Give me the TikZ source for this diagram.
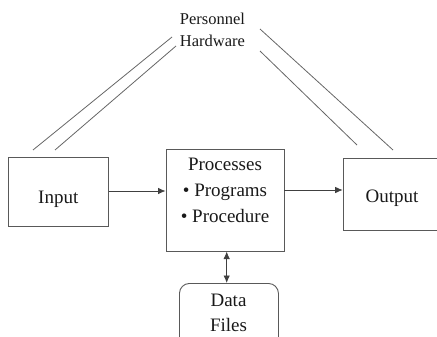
\documentclass[tikz,border=0pt]{standalone}
\usepackage{fontspec}
\setmainfont{Liberation Serif}
\newfontfamily\timesfont{Liberation Serif}
\usetikzlibrary{arrows.meta}
\begin{document}
\begin{tikzpicture}[x=1pt,y=-1pt,
  boxline/.style={draw=black!65, line width=0.9pt},
  slant/.style={draw=black!60, line width=0.8pt},
  tip/.style={Latex[length=7.5pt,width=6.5pt]},
  conn/.style={draw=black!75, line width=0.8pt, -{Latex[length=7.5pt,width=6.5pt]}},
  bigtxt/.style={font=\timesfont\fontsize{19}{25}\selectfont, inner sep=0pt, anchor=base, text=black!90},
  smalltxt/.style={font=\timesfont\fontsize{16.5}{21}\selectfont, inner sep=0pt, anchor=base, text=black!90}]
\useasboundingbox (0,0) rectangle (437,337);
\clip (0,0) rectangle (437,337);
% boxes
\node[boxline, minimum width=100pt, minimum height=68.3pt, inner sep=0pt] (input) at (58.3,191.8) {};
\node[boxline, minimum width=118pt, minimum height=101.7pt, inner sep=0pt] (proc) at (225,200.2) {};
\node[boxline, minimum width=120pt, minimum height=72.3pt, inner sep=0pt, anchor=north west] (output) at (342.7,157.7) {};
\node[boxline, rounded corners=10pt, minimum width=99pt, minimum height=90pt, inner sep=0pt, anchor=north west] (data) at (179,283) {};
% texts
\node[bigtxt] (tinput) at (58.3,203) {Input};
\node[bigtxt] (toutput) at (392,202) {Output};
\node[bigtxt] (tproc) at (225,170) {Processes};
\node[bigtxt] (tprog) at (225,196.5) {• Programs};
\node[bigtxt] (tprocd) at (225,222) {• Procedure};
\node[bigtxt] (tdata) at (228.5,306) {Data};
\node[bigtxt] (tfiles) at (228.5,331) {Files};
\node[smalltxt] (tpers) at (212.5,25) {Personnel};
\node[smalltxt] (thard) at (212.5,47) {Hardware};
% connectors
\draw[conn] (input.east |- 0,191) -- (proc.west |- 0,191);
\draw[conn] (proc.east |- 0,190) -- (output.west |- 0,190);
\draw[conn, {Latex[length=7.5pt,width=6.5pt]}-{Latex[length=7.5pt,width=6.5pt]}] (226.7,0 |- proc.south) -- (226.7,0 |- data.north);
% slanted lines
\coordinate (l1a) at (33,150); \coordinate (l1b) at (172,37);
\coordinate (l2a) at (55,150); \coordinate (l2b) at (176,46);
\coordinate (r1a) at (260,29); \coordinate (r1b) at (393,150);
\coordinate (r2a) at (260,51); \coordinate (r2b) at (357,145);
\draw[slant] (l1a) -- (l1b);
\draw[slant] (l2a) -- (l2b);
\draw[slant] (r1a) -- (r1b);
\draw[slant] (r2a) -- (r2b);
\end{tikzpicture}
\end{document}
